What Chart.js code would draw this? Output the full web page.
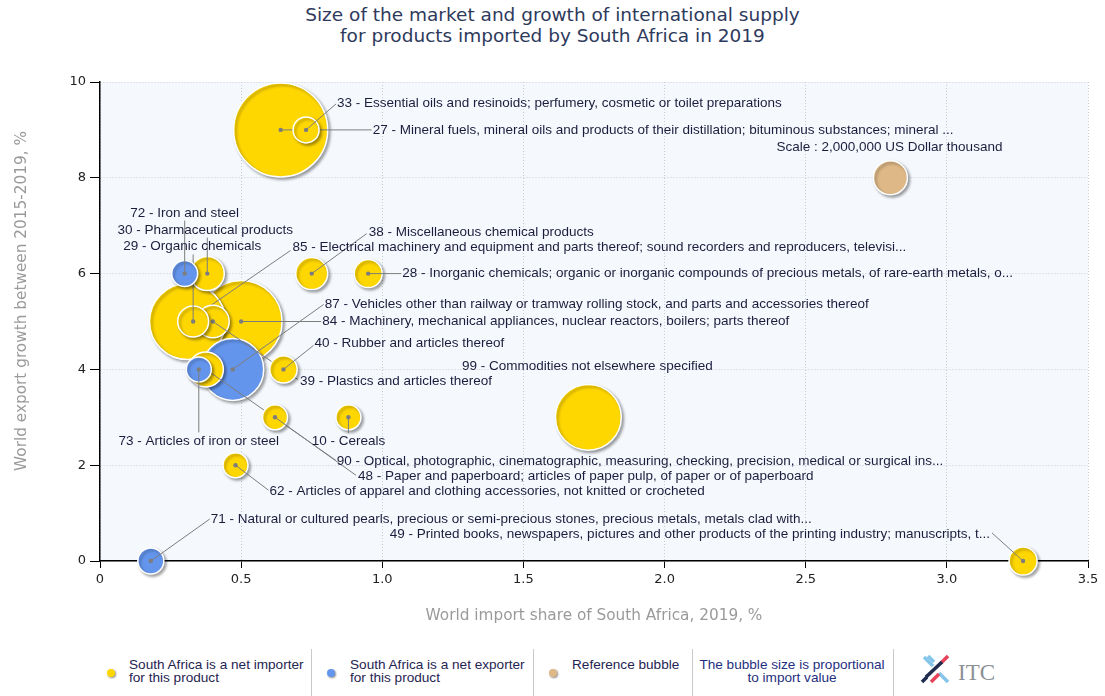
<!DOCTYPE html>
<html>
<head>
<meta charset="utf-8">
<title>Size of the market and growth of international supply - South Africa 2019</title>
<script src="https://cdn.jsdelivr.net/npm/chart.js@4.4.1/dist/chart.umd.min.js"></script>
<style>
  html, body { margin: 0; padding: 0; background: #fff; }
  body { width: 1105px; height: 696px; position: relative; overflow: hidden; font-family: "Liberation Sans", Arial, sans-serif; }
  #bubble-chart { position: absolute; left: 0; top: 0; }
  .title { position: absolute; left: 0; top: 4px; width: 1105px; text-align: center; font: 18.5px "DejaVu Sans", Verdana, sans-serif; line-height: 21px; color: #2e3a5c; }
  .lg-dot { position: absolute; top: 669px; width: 8px; height: 8px; border-radius: 50%; box-shadow: 1px 1px 2px rgba(0,0,0,0.45); }
  .lg-text { position: absolute; top: 658px; font-size: 13.6px; line-height: 13px; color: #1f2452; white-space: nowrap; }
  .lg-sep { position: absolute; top: 649px; width: 1px; height: 47px; background: #c9c9c9; }
  .logo { position: absolute; left: 920px; top: 654px; }
</style>
</head>
<body>
<div class="title">Size of the market and growth of international supply<br>for products imported by South Africa in 2019</div>
<canvas id="bubble-chart" width="1105" height="640"></canvas>

<span class="lg-dot" style="left:107px; background:#FFD700"></span>
<div class="lg-text" style="left:129px">South Africa is a net importer<br>for this product</div>
<div class="lg-sep" style="left:311px"></div>
<span class="lg-dot" style="left:327px; background:#6495ED"></span>
<div class="lg-text" style="left:350px">South Africa is a net exporter<br>for this product</div>
<div class="lg-sep" style="left:533px"></div>
<span class="lg-dot" style="left:549px; background:#DEB887"></span>
<div class="lg-text" style="left:572px">Reference bubble</div>
<div class="lg-sep" style="left:692px"></div>
<div class="lg-text" style="left:694px; width:196px; text-align:center; color:#1f2f80">The bubble size is proportional<br>to import value</div>
<div class="lg-sep" style="left:893px"></div>
<svg class="logo" width="84" height="32" viewBox="0 0 84 32">
  <g stroke-width="3.6">
    <line x1="4" y1="3" x2="13" y2="12" stroke="#86c5ea"/>
    <line x1="8" y1="2" x2="14" y2="8" stroke="#86c5ea"/>
    <line x1="19" y1="19" x2="28" y2="28" stroke="#86c5ea"/>
    <line x1="21" y1="9" x2="28" y2="2" stroke="#e6435b"/>
    <line x1="6" y1="23" x2="22" y2="8" stroke="#1f2c4f"/>
    <line x1="11" y1="28" x2="19" y2="20" stroke="#e6435b"/>
    <line x1="2" y1="28" x2="7" y2="23" stroke="#1f2c4f"/>
  </g>
  <text x="38" y="26" font-family="Liberation Serif, serif" font-size="23" fill="#8b8f96">ITC</text>
</svg>

<script>
(function () {
  'use strict';

  // ============================================================
  //  Data
  // ============================================================
  var productCodes = ['27', '33', '72', '30', '29', '38', '85', '28', '87', '84',
                      '40', '39', '99', '73', '10', '90', '48', '62', '71', '49'];
  var productNames = [
    'Mineral fuels, mineral oils and products of their distillation; bituminous substances; mineral ...',
    'Essential oils and resinoids; perfumery, cosmetic or toilet preparations',
    'Iron and steel',
    'Pharmaceutical products',
    'Organic chemicals',
    'Miscellaneous chemical products',
    'Electrical machinery and equipment and parts thereof; sound recorders and reproducers, televisi...',
    'Inorganic chemicals; organic or inorganic compounds of precious metals, of rare-earth metals, o...',
    'Vehicles other than railway or tramway rolling stock, and parts and accessories thereof',
    'Machinery, mechanical appliances, nuclear reactors, boilers; parts thereof',
    'Rubber and articles thereof',
    'Plastics and articles thereof',
    'Commodities not elsewhere specified',
    'Articles of iron or steel',
    'Cereals',
    'Optical, photographic, cinematographic, measuring, checking, precision, medical or surgical ins...',
    'Paper and paperboard; articles of paper pulp, of paper or of paperboard',
    'Articles of apparel and clothing accessories, not knitted or crocheted',
    'Natural or cultured pearls, precious or semi-precious stones, precious metals, metals clad with...',
    'Printed books, newspapers, pictures and other products of the printing industry; manuscripts, t...'
  ];
  // World import share of South Africa, 2019, %
  var importShare = [0.64, 0.73, 0.30, 0.38, 0.33, 0.75, 0.31, 0.95, 0.47, 0.50,
                     0.65, 0.40, 1.73, 0.35, 0.88, 0.375, 0.62, 0.48, 0.18, 3.27];
  // World export growth between 2015-2019, %
  var exportGrowth = [9, 9, 6, 6, 5, 6, 5, 6, 4, 5,
                      4, 5, 3, 4, 3, 4, 3, 2, 0, 0];
  // South Africa import value, US Dollar thousand
  var importValue = [15300000, 1170000, 1170000, 2000000, 1660000, 1770000, 10000000, 1360000, 6650000, 11600000,
                     1300000, 1840000, 7500000, 1080000, 1080000, 2120000, 1080000, 1080000, 1170000, 1360000];
  // true = South Africa is a net exporter of the product
  var netExporter = [false, false, true, false, false, false, false, false, true, false,
                     false, false, false, true, false, false, false, false, true, false];

  var refShare = 2.8;
  var refGrowth = 8;
  var refValue = 2000000;
  var refText = 'Scale : 2,000,000 US Dollar thousand';

  var xTicksMax = 3.5, xStep = 0.5;
  var yTicksMax = 10, yStep = 2;

  // ============================================================
  //  Styling / label placement (px offsets from bubble centre)
  // ============================================================
  var REF_RADIUS = 17;
  var COLOR_IMPORTER = '#FFD700';
  var COLOR_EXPORTER = '#6495ED';
  var COLOR_REF = '#DEB887';
  var LINE_COLOR = '#7d7d7d';
  var TEXT_COLOR = '#1c1c3c';

  var labelLayout = {
    '27': { dx: 92, dy: 0, align: 'left', lx: 91, ly: 0 },
    '33': { dx: 31, dy: -27, align: 'left', lx: 30, ly: -26 },
    '72': { dx: 0, dy: -60, align: 'center', lx: 0, ly: -53 },
    '30': { dx: -2, dy: -43, align: 'center', lx: 0, ly: -36 },
    '29': { dx: -1, dy: -75, align: 'center', lx: 0, ly: -67 },
    '38': { dx: 57, dy: -41, align: 'left', lx: 55, ly: -40 },
    '85': { dx: 105, dy: -74, align: 'left', lx: 103, ly: -71 },
    '28': { dx: 34, dy: 0, align: 'left', lx: 33, ly: 0 },
    '87': { dx: 92, dy: -65, align: 'left', lx: 91, ly: -65 },
    '84': { dx: 81, dy: 0, align: 'left', lx: 80, ly: 0 },
    '40': { dx: 31, dy: -26, align: 'left', lx: 30, ly: -24 },
    '39': { dx: 87, dy: 60, align: 'left', lx: 85, ly: 58 },
    '99': { dx: -1, dy: -51, align: 'center', line: false, dot: false },
    '73': { dx: 0, dy: 72, align: 'center', lx: 0, ly: 63 },
    '10': { dx: 0, dy: 24, align: 'center', lx: 0, ly: 16 },
    '90': { dx: 131, dy: 92, align: 'left', lx: 130, ly: 91 },
    '48': { dx: 83, dy: 59, align: 'left', lx: 81, ly: 58 },
    '62': { dx: 34, dy: 26, align: 'left', lx: 33, ly: 25 },
    '71': { dx: 60, dy: -42, align: 'left', lx: 59, ly: -42 },
    '49': { dx: -33, dy: -27, align: 'right', lx: -31, ly: -28 },
    'ref': { dx: 112, dy: -31, align: 'right', line: false, dot: false }
  };

  function radiusFor(value) {
    return REF_RADIUS * Math.sqrt(value / refValue);
  }

  // ============================================================
  //  Datasets: one per product, smallest first so it ends up on top
  // ============================================================
  var order = productCodes.map(function (c, i) { return i; });
  order.sort(function (a, b) { return importValue[a] - importValue[b]; });

  var datasets = order.map(function (i) {
    return {
      label: productCodes[i] + ' - ' + productNames[i],
      code: productCodes[i],
      data: [{ x: importShare[i], y: exportGrowth[i], r: radiusFor(importValue[i]) }],
      backgroundColor: netExporter[i] ? COLOR_EXPORTER : COLOR_IMPORTER,
      borderColor: '#ffffff',
      borderWidth: 1.5,
      clip: false
    };
  });
  datasets.push({
    label: 'Reference bubble',
    code: 'ref',
    data: [{ x: refShare, y: refGrowth, r: radiusFor(refValue) }],
    backgroundColor: COLOR_REF,
    borderColor: '#ffffff',
    borderWidth: 1.5,
    clip: false
  });

  // ============================================================
  //  Plugin: plot background, shadows, leader lines, labels
  // ============================================================
  var bubbleDecor = {
    id: 'bubbleDecor',
    beforeDraw: function (chart) {
      var a = chart.chartArea, ctx = chart.ctx;
      ctx.save();
      ctx.fillStyle = '#F5F9FE';
      ctx.fillRect(a.left, a.top, a.right - a.left, a.bottom - a.top);
      ctx.restore();
    },
    beforeDatasetsDraw: function (chart) {
      var ctx = chart.ctx;
      ctx.save();
      ctx.shadowColor = 'rgba(0,0,0,0.35)';
      ctx.shadowBlur = 3;
      ctx.shadowOffsetX = 2;
      ctx.shadowOffsetY = 2;
    },
    afterDatasetDraw: function (chart, args) {
      var ds = chart.data.datasets[args.index];
      var lay = labelLayout[ds.code];
      var pt = args.meta.data[0];
      var ctx = chart.ctx;
      if (!lay || !pt) return;
      ctx.save();
      ctx.shadowColor = 'rgba(0,0,0,0)';
      ctx.strokeStyle = LINE_COLOR;
      ctx.fillStyle = LINE_COLOR;
      ctx.lineWidth = 1;
      if (lay.line !== false) {
        ctx.beginPath();
        ctx.moveTo(pt.x, pt.y);
        ctx.lineTo(pt.x + lay.lx, pt.y + lay.ly);
        ctx.stroke();
      }
      if (lay.dot !== false) {
        ctx.beginPath();
        ctx.arc(pt.x, pt.y, 2.2, 0, Math.PI * 2);
        ctx.fill();
      }
      ctx.restore();
    },
    afterDatasetsDraw: function (chart) {
      var ctx = chart.ctx;
      ctx.restore();
      ctx.save();
      ctx.font = '13.5px "Liberation Sans", Arial, sans-serif';
      ctx.fillStyle = TEXT_COLOR;
      ctx.textBaseline = 'middle';
      chart.data.datasets.forEach(function (ds, k) {
        var lay = labelLayout[ds.code];
        var pt = chart.getDatasetMeta(k).data[0];
        if (!lay || !pt) return;
        var text = ds.code === 'ref' ? refText : ds.label;
        ctx.textAlign = lay.align;
        ctx.fillText(text, pt.x + lay.dx, pt.y + lay.dy);
      });
      ctx.restore();
    },
    afterDraw: function (chart) {
      var a = chart.chartArea, ctx = chart.ctx;
      ctx.save();
      ctx.font = '15.3px "DejaVu Sans", Verdana, sans-serif';
      ctx.fillStyle = '#9a9a9a';
      ctx.textAlign = 'center';
      ctx.textBaseline = 'middle';
      ctx.fillText('World import share of South Africa, 2019, %', (a.left + a.right) / 2, 616);
      ctx.translate(22, 301);
      ctx.rotate(-Math.PI / 2);
      ctx.fillText('World export growth between 2015-2019, %', 0, 0);
      ctx.restore();
    }
  };

  var tickFont = { family: '"DejaVu Sans", Verdana, sans-serif', size: 13 };

  new Chart(document.getElementById('bubble-chart').getContext('2d'), {
    type: 'bubble',
    data: { datasets: datasets },
    options: {
      responsive: false,
      animation: false,
      events: [],
      devicePixelRatio: 1,
      layout: { autoPadding: false, padding: { left: 0, top: 82, right: 17, bottom: 0 } },
      plugins: { legend: { display: false }, tooltip: { enabled: false }, title: { display: false } },
      scales: {
        x: {
          type: 'linear', min: 0, max: xTicksMax,
          afterFit: function (s) { s.height = 79; },
          ticks: { stepSize: xStep, font: tickFont, color: '#222', padding: 4 },
          grid: { color: '#c9ccd2', tickColor: '#000', tickLength: 7, tickBorderDash: [] },
          border: { display: true, color: '#000', width: 1.5, dash: [1, 2] }
        },
        y: {
          type: 'linear', min: 0, max: yTicksMax,
          afterFit: function (s) { s.width = 100; },
          ticks: { stepSize: yStep, font: tickFont, color: '#222', padding: 4 },
          grid: { color: '#c9ccd2', tickColor: '#000', tickLength: 10, tickBorderDash: [] },
          border: { display: true, color: '#000', width: 1.5, dash: [1, 2] }
        }
      }
    },
    plugins: [bubbleDecor]
  });
})();
</script>
</body>
</html>
